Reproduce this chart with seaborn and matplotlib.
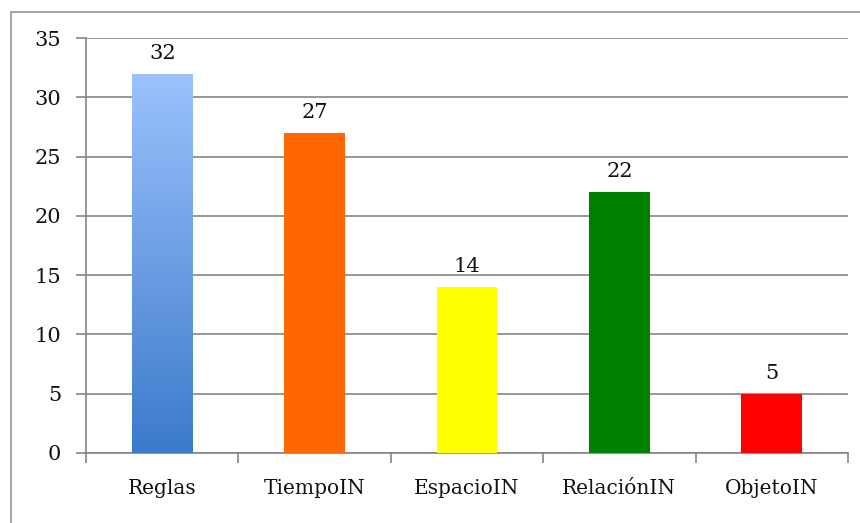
import numpy as np
import pandas as pd
import matplotlib
matplotlib.use("Agg")
import matplotlib.pyplot as plt
from matplotlib.lines import Line2D
from matplotlib.colors import LinearSegmentedColormap
import seaborn as sns

categories = ["Reglas", "TiempoIN", "EspacioIN", "RelaciónIN", "ObjetoIN"]
values = [32, 27, 14, 22, 5]
bar_colors = ["#6A9DE8", "#FF6600", "#FFFF00", "#008000", "#FF0000"]
yticks = [0, 5, 10, 15, 20, 25, 30, 35]

sns.set_theme(style="white")
plt.rcParams["font.family"] = ["DejaVu Serif", "DejaVu Sans"]

df = pd.DataFrame({"categoria": categories, "valor": values})

fig = plt.figure(figsize=(8.6, 5.23), dpi=100)
ax = fig.add_axes([0.1, 0.134, 0.886, 0.793])

sns.barplot(data=df, x="categoria", y="valor", hue="categoria",
            palette=bar_colors, width=0.40, legend=False, ax=ax,
            saturation=1, zorder=3, edgecolor="none", linewidth=0)

# vertical blue gradient on the first bar
grad_cmap = LinearSegmentedColormap.from_list("reglas", ["#3C7ACB", "#9BC2FD"])
first = ax.patches[0]
x0, y0 = first.get_x(), first.get_y()
w, h = first.get_width(), first.get_height()
first.set_facecolor("none")
grad = np.linspace(0, 1, 256).reshape(-1, 1)
img = ax.imshow(grad, cmap=grad_cmap, origin="lower", aspect="auto",
                extent=[x0, x0 + w, y0, y0 + h], zorder=3)
img.set_clip_path(first)

# value labels
for i, v in enumerate(values):
    ax.annotate(str(v), (i, v), xytext=(0, 8), textcoords="offset points",
                ha="center", va="bottom", fontsize=15, color="#111111")

ax.set_xlim(-0.5, len(categories) - 0.5)
ax.set_ylim(0, 35)
ax.set_yticks(yticks)
ax.set_yticklabels([str(t) for t in yticks])
ax.set_xlabel("")
ax.set_ylabel("")

grid_c = "#858585"
ax.yaxis.grid(True, color=grid_c, linewidth=1.2, zorder=0)
ax.xaxis.grid(False)
ax.set_axisbelow(True)

for side in ["top", "right"]:
    ax.spines[side].set_visible(False)
for side in ["left", "bottom"]:
    ax.spines[side].set_color(grid_c)
    ax.spines[side].set_linewidth(1.2)

# category boundaries get the tick marks, labels sit between them
ax.set_xticks(np.arange(-0.5, len(categories), 1.0), minor=True)
ax.tick_params(axis="x", which="major", length=0, pad=19, labelsize=14.5,
               labelcolor="#111111")
ax.tick_params(axis="x", which="minor", length=7, width=1.2, color=grid_c,
               direction="out", bottom=True)
ax.tick_params(axis="y", which="major", length=7, width=1.2, color=grid_c,
               direction="out", left=True, pad=11, labelsize=15,
               labelcolor="#111111")

# outer frame: top and left edges
fig.add_artist(Line2D([11 / 860, 1], [1 - 12 / 523, 1 - 12 / 523],
                      transform=fig.transFigure, color="#A6A6A6", linewidth=1.5))
fig.add_artist(Line2D([11 / 860, 11 / 860], [0, 1 - 12 / 523],
                      transform=fig.transFigure, color="#A6A6A6", linewidth=1.5))

fig.savefig("out.png", dpi=100, facecolor="white")
